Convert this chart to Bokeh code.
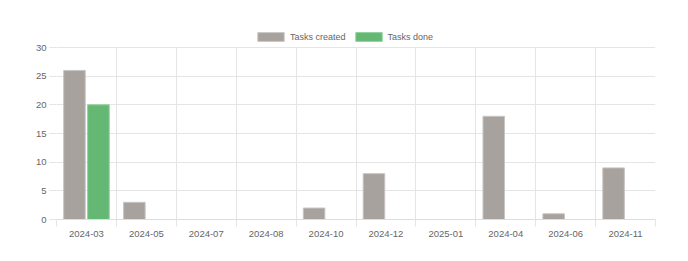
from bokeh.plotting import figure
from bokeh.models import ColumnDataSource, FixedTicker, Range1d, Legend, LegendItem
from bokeh.transform import dodge
from bokeh.embed import file_html
from bokeh.resources import INLINE

months = ["2024-03", "2024-05", "2024-07", "2024-08", "2024-10",
          "2024-12", "2025-01", "2024-04", "2024-06", "2024-11"]
tasks_created = [26, 3, 0, 0, 2, 8, 0, 18, 1, 9]
tasks_done = [20, 0, 0, 0, 0, 0, 0, 0, 0, 0]
y_ticks = [0, 5, 10, 15, 20, 25, 30]

n = len(months)
y_max = y_ticks[-1]
centers = [i + 0.5 for i in range(n)]
bounds = list(range(n + 1))

src = ColumnDataSource(dict(x=centers, created=tasks_created, done=tasks_done))

FONT = "Liberation Sans"
GRID = "#e5e5e5"
TXT = "#666666"

TOP = 25          # frame top (px); legend sits above the y=30 line inside the frame
PLOT_TOP = 47     # pixel row of y=30
PLOT_BOTTOM = 219 # pixel row of y=0
y_end = y_max * (PLOT_BOTTOM - TOP) / (PLOT_BOTTOM - PLOT_TOP)

p = figure(width=688, height=261, output_backend="svg", toolbar_location=None,
           x_range=Range1d(0, n), y_range=Range1d(0, y_end),
           min_border_left=56, min_border_right=33, min_border_top=TOP,
           min_border_bottom=261 - PLOT_BOTTOM)
p.outline_line_color = None
p.background_fill_color = "white"
p.border_fill_color = "white"

r1 = p.vbar(x=dodge("x", -0.2, range=p.x_range), top="created", width=0.36, source=src,
            fill_color="#a8a29e", line_color="#c9c5c2", line_width=1)
r2 = p.vbar(x=dodge("x", 0.2, range=p.x_range), top="done", width=0.36, source=src,
            fill_color="#64b873", line_color="#8fd09a", line_width=1)

# x axis
p.xaxis.ticker = FixedTicker(ticks=centers, minor_ticks=bounds)
p.xaxis.major_label_overrides = {c: m for c, m in zip(centers, months)}
p.xaxis.major_tick_line_color = None
p.xaxis.major_tick_out = 7
p.xaxis.major_tick_in = 0
p.xaxis.minor_tick_line_color = GRID
p.xaxis.minor_tick_out = 7
p.xaxis.minor_tick_in = 0
p.xaxis.axis_line_color = "#dddddd"
p.xaxis.axis_line_width = 1
p.xaxis.major_label_standoff = 4
p.xaxis.major_label_text_font = FONT
p.xaxis.major_label_text_font_size = "9.5px"
p.xaxis.major_label_text_color = TXT

p.xgrid.ticker = FixedTicker(ticks=bounds)
p.xgrid.grid_line_color = GRID
p.xgrid.cross_bounds = (0, y_max)

# y axis
p.yaxis.ticker = FixedTicker(ticks=y_ticks)
p.yaxis.major_tick_out = 7
p.yaxis.major_tick_in = 0
p.yaxis.major_tick_line_color = GRID
p.yaxis.minor_tick_line_color = None
p.yaxis.axis_line_color = None
p.yaxis.major_label_standoff = 3
p.yaxis.major_label_text_font = FONT
p.yaxis.major_label_text_font_size = "9.5px"
p.yaxis.major_label_text_color = TXT
p.ygrid.grid_line_color = GRID

legend = Legend(items=[LegendItem(label="Tasks created", renderers=[r1]),
                       LegendItem(label="Tasks done", renderers=[r2])],
                orientation="horizontal", location=(198, 177),
                border_line_color=None, background_fill_alpha=0,
                glyph_width=33, glyph_height=11, label_text_font=FONT,
                label_text_font_size="9px", label_text_color=TXT,
                label_height=11,
                spacing=6, padding=0, margin=0, label_standoff=3)
p.add_layout(legend, "center")

open("out.html", "w").write(file_html(p, INLINE))
